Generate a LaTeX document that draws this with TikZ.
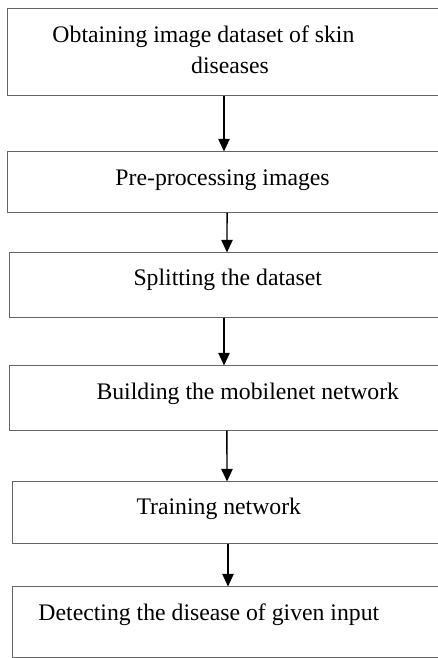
\documentclass[tikz,border=0pt]{standalone}
\usepackage{fontspec}
\setmainfont{Liberation Serif}
\usetikzlibrary{arrows.meta}

\tikzset{every picture/.style={line width=0.75pt}}
\tikzset{
  procbox/.style 2 args={minimum width=#1*0.75pt, minimum height=#2*0.75pt, inner sep=0pt},
  boxline/.style={draw={rgb,255:red,100;green,100;blue,100}, line width=1.35pt},
  proctext/.style={inner sep=0.75pt, font=\fontsize{17.8}{23.3}\selectfont},
  flowarrow/.style={-{Triangle[length=9.5pt,width=8.5pt]}, line width=1.1pt, black}
}

\begin{document}
\begin{tikzpicture}[x=0.75pt,y=0.75pt,yscale=-1,xscale=1]
\useasboundingbox (0,0) rectangle (437,658);

%Shape: Rectangle [open on the right, ends at the page edge]
\node [procbox={429}{86}] (obtain) at (222.5,52) {};
\node [procbox={429}{60}] (preproc) at (222.5,182) {};
\node [procbox={427}{64}] (split) at (223.5,285) {};
\node [procbox={427}{64}] (build) at (223.5,398) {};
\node [procbox={424}{61}] (train) at (225,512.5) {};
\node [procbox={424}{70}] (detect) at (225,622) {};
\foreach \b in {obtain,preproc,split,build,train,detect}
  \draw [boxline] (\b.north east) -- (\b.north west) -- (\b.south west) -- (\b.south east);

% Text Node
\node [proctext, anchor=north west, align=left] (obtaintxt) at (51,24) {Obtaining image dataset of skin\\\hspace*{104pt}diseases};
% Text Node
\node [proctext, anchor=base west] (preproctxt) at (114,185) {Pre-processing images};
% Text Node
\node [proctext, anchor=base west] (splittxt) at (132,285) {Splitting the dataset};
% Text Node
\node [proctext, anchor=base west] (buildtxt) at (95,399) {Building the mobilenet network};
% Text Node
\node [proctext, anchor=base west] (traintxt) at (135,514) {Training network};
% Text Node
\node [proctext, anchor=base west] (detecttxt) at (37,620) {Detecting the disease of given input};

%Straight Lines
\draw [flowarrow] ([xshift=1.1pt]obtain.south) -- ([xshift=1.1pt]preproc.north);
\draw [flowarrow] ([xshift=3.4pt]preproc.south) -- ([xshift=2.6pt]split.north);
\draw [flowarrow] ([xshift=0.4pt]split.south) -- ([xshift=0.4pt]build.north);
\draw [flowarrow] ([xshift=2.6pt]build.south) -- ([xshift=1.5pt]train.north);
\draw [flowarrow] ([xshift=2.25pt]train.south) -- ([xshift=2.25pt]detect.north);

\end{tikzpicture}
\end{document}
